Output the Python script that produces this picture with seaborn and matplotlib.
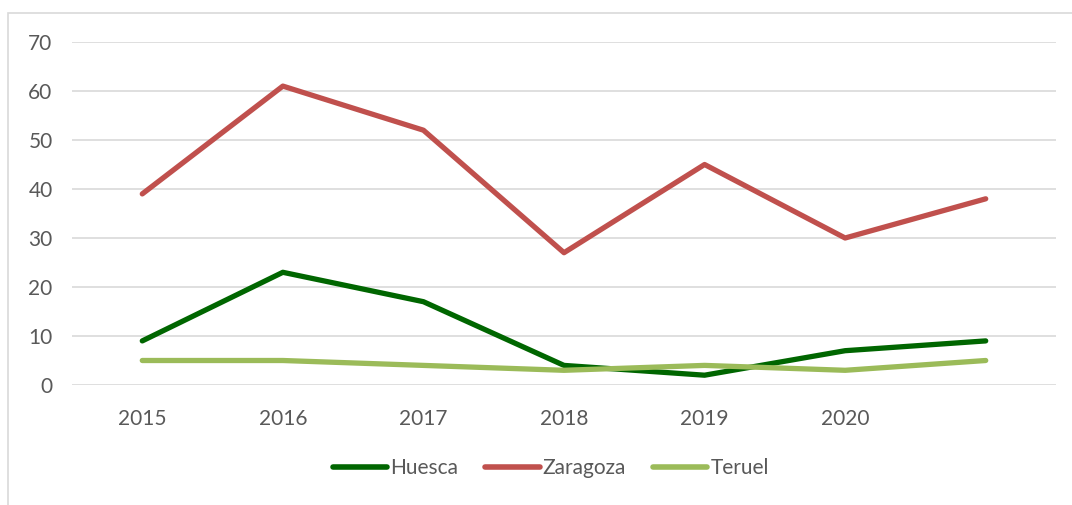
import pandas as pd
import matplotlib.pyplot as plt
import matplotlib.patches as mpatches
import seaborn as sns

years = ['2015', '2016', '2017', '2018', '2019', '2020', '2021']
tick_labels = ['2015', '2016', '2017', '2018', '2019', '2020', '']
huesca = [9, 23, 17, 4, 2, 7, 9]
zaragoza = [39, 61, 52, 27, 45, 30, 38]
teruel = [5, 5, 4, 3, 4, 3, 5]
provinces = ['Huesca', 'Zaragoza', 'Teruel']
colors = ['#006600', '#C0504D', '#9BBB59']

df = pd.DataFrame({
    'pos': list(range(len(years))) * 3,
    'value': huesca + zaragoza + teruel,
    'provincia': [p for p in provinces for _ in years],
})

sns.set_style('white')
plt.rcParams['font.family'] = ['Lato', 'DejaVu Sans']
text_color = '#595959'

fig = plt.figure(figsize=(10.72, 5.05), dpi=100)
ax = fig.add_axes([72 / 1072, 120 / 505, 984 / 1072, 343 / 505])

sns.lineplot(data=df, x='pos', y='value', hue='provincia', hue_order=provinces,
             palette=colors, linewidth=3.8, ax=ax, legend=True)
for line in ax.lines:
    line.set_solid_capstyle('round')
    line.set_solid_joinstyle('round')

ax.set_xlim(-0.5, 6.5)
ax.set_ylim(0, 70)
ax.set_yticks(range(0, 71, 10))
ax.set_xticks(range(len(years)))
ax.set_xticklabels(tick_labels)
ax.yaxis.grid(True, color='#D9D9D9', linewidth=1.2)
ax.set_axisbelow(True)
for s in ax.spines.values():
    s.set_visible(False)
ax.tick_params(axis='both', length=0, labelsize=15, colors=text_color)
ax.tick_params(axis='x', pad=17)
ax.tick_params(axis='y', pad=14)
ax.set_xlabel('')
ax.set_ylabel('')

handles, labels = ax.get_legend_handles_labels()
ax.get_legend().remove()
for h in handles:
    h.set_linewidth(4)
    h.set_solid_capstyle('round')
fig.legend(handles, labels, loc='center', bbox_to_anchor=(551 / 1072, 1 - 468 / 505),
           ncol=3, frameon=False, fontsize=15, labelcolor=text_color,
           handlelength=2.6, handletextpad=0.15, columnspacing=1.3)

# chart frame (cut at the right and bottom edges)
fig.patches.append(mpatches.Rectangle((8 / 1072, -0.1), 1.2, 1 - 13 / 505 + 0.1,
                                      transform=fig.transFigure, fill=False,
                                      edgecolor='#D9D9D9', linewidth=1.2))

fig.savefig('out.png', dpi=100)
